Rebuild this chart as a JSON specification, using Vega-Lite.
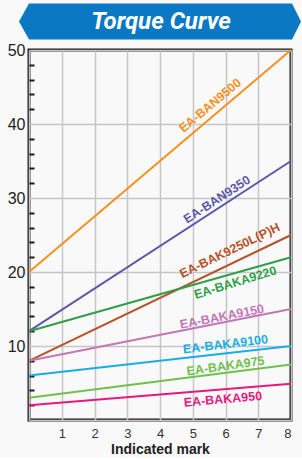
{
  "$schema": "https://vega.github.io/schema/vega-lite/v6.json",
  "background": "#f9f9f9",
  "padding": {"left": 5, "top": 3, "right": 3, "bottom": 0},
  "config": {
    "view": {"stroke": null},
    "font": "Liberation Sans"
  },
  "spacing": 0,
  "datasets": {
    "lines": [
      {"series": "EA-BAN9500", "mark": 0, "torque": 20},
      {"series": "EA-BAN9500", "mark": 8, "torque": 50},
      {"series": "EA-BAN9350", "mark": 0, "torque": 12},
      {"series": "EA-BAN9350", "mark": 8, "torque": 35},
      {"series": "EA-BAK9250L(P)H", "mark": 0, "torque": 8},
      {"series": "EA-BAK9250L(P)H", "mark": 8, "torque": 25},
      {"series": "EA-BAKA9220", "mark": 0, "torque": 12},
      {"series": "EA-BAKA9220", "mark": 8, "torque": 22},
      {"series": "EA-BAKA9150", "mark": 0, "torque": 8},
      {"series": "EA-BAKA9150", "mark": 8, "torque": 15},
      {"series": "EA-BAKA9100", "mark": 0, "torque": 6},
      {"series": "EA-BAKA9100", "mark": 8, "torque": 10},
      {"series": "EA-BAKA975", "mark": 0, "torque": 3},
      {"series": "EA-BAKA975", "mark": 8, "torque": 7.5},
      {"series": "EA-BAKA950", "mark": 0, "torque": 2},
      {"series": "EA-BAKA950", "mark": 8, "torque": 4.9}
    ],
    "labels": [
      {"series": "EA-BAN9500", "mark": 5.53, "torque": 42.5},
      {"series": "EA-BAN9350", "mark": 5.74, "torque": 29.8},
      {"series": "EA-BAK9250L(P)H", "mark": 6.13, "torque": 22.9},
      {"series": "EA-BAKA9220", "mark": 6.3, "torque": 18.57},
      {"series": "EA-BAKA9150", "mark": 5.89, "torque": 13.95},
      {"series": "EA-BAKA9100", "mark": 6.0, "torque": 10.23},
      {"series": "EA-BAKA975", "mark": 6.0, "torque": 7.3},
      {"series": "EA-BAKA950", "mark": 5.92, "torque": 2.8}
    ],
    "banner": [{"title": "Torque Curve"}]
  },
  "vconcat": [
    {
      "width": 262,
      "height": 37,
      "data": {"name": "banner"},
      "layer": [
        {
          "mark": {
            "type": "point",
            "shape": "M-1,0L-0.929,-0.128L0.936,-0.128L1,0L0.936,0.128L-0.929,0.128Z",
            "size": 79524,
            "filled": true,
            "opacity": 1,
            "color": "#0a78c2"
          },
          "encoding": {}
        },
        {
          "mark": {
            "type": "text",
            "font": "Roboto",
            "fontSize": 24,
            "fontWeight": "bold",
            "fontStyle": "italic",
            "color": "white",
            "align": "center",
            "baseline": "middle",
            "xOffset": 1
          },
          "encoding": {"text": {"field": "title"}}
        }
      ]
    },
    {
      "width": 262,
      "height": 370,
      "view": {"stroke": "#1a1a1a", "strokeWidth": 3},
      "layer": [
        {
          "data": {"name": "lines"},
          "mark": {"type": "line", "strokeWidth": 2},
          "encoding": {
            "x": {
              "field": "mark", "type": "quantitative",
              "scale": {"domain": [0, 8], "nice": false},
              "axis": {
                "values": [0, 1, 2, 3, 4, 5, 6, 7, 8],
                "tickCount": 100,
                "format": "d",
                "labelExpr": "datum.value === 0 ? '' : datum.label",
                "labelOverlap": false,
                "title": "Indicated mark",
                "domain": false,
                "ticks": false,
                "grid": true,
                "gridColor": "#c6c6ca",
                "gridWidth": 1.5,
                "labelFontSize": 13,
                "labelColor": "#333333",
                "labelPadding": 7,
                "labelFont": "Liberation Sans",
                "titleFont": "Liberation Sans",
                "titleFontSize": 14,
                "titleFontWeight": "bold",
                "titleColor": "#222222",
                "titlePadding": 2
              }
            },
            "y": {
              "field": "torque", "type": "quantitative",
              "scale": {"domain": [0, 50], "nice": false},
              "axis": {
                "values": [0, 2, 4, 6, 8, 10, 12, 14, 16, 18, 20, 22, 24, 26, 28, 30, 32, 34, 36, 38, 40, 42, 44, 46, 48, 50],
                "tickCount": 100,
                "format": "d",
                "labelExpr": "(datum.value % 10 === 0 && datum.value > 0) ? datum.label : ''",
                "labelOverlap": false,
                "labelBound": false,
                "title": null,
                "domain": false,
                "ticks": true,
                "tickSize": -5,
                "tickWidth": 2,
                "tickColor": "#1a1a1a",
                "tickOpacity": {"condition": {"test": "datum.value % 10 === 0", "value": 0}, "value": 1},
                "grid": true,
                "gridColor": "#c6c6ca",
                "gridWidth": 1.5,
                "gridOpacity": {"condition": {"test": "datum.value % 10 === 0", "value": 1}, "value": 0},
                "labelFontSize": 16,
                "labelColor": "#222222",
                "labelPadding": 9,
                "labelFont": "Liberation Sans"
              }
            },
            "color": {
              "field": "series", "type": "nominal", "legend": null,
              "scale": {
                "domain": ["EA-BAN9500", "EA-BAN9350", "EA-BAK9250L(P)H", "EA-BAKA9220", "EA-BAKA9150", "EA-BAKA9100", "EA-BAKA975", "EA-BAKA950"],
                "range": ["#f7901e", "#5a58a8", "#b5532a", "#2f9e48", "#c376b8", "#17aee6", "#72c04c", "#e6197f"]
              }
            }
          }
        },
        {"data": {"name": "labels"}, "transform": [{"filter": "datum.series === 'EA-BAN9500'"}],
         "mark": {"type": "text", "angle": -40, "fontSize": 12.5, "fontWeight": "bold", "font": "Liberation Sans", "align": "center", "baseline": "middle"},
         "encoding": {"x": {"field": "mark", "type": "quantitative"}, "y": {"field": "torque", "type": "quantitative"}, "text": {"field": "series"}, "color": {"field": "series", "type": "nominal"}}},
        {"data": {"name": "labels"}, "transform": [{"filter": "datum.series === 'EA-BAN9350'"}],
         "mark": {"type": "text", "angle": -33, "fontSize": 12.5, "fontWeight": "bold", "font": "Liberation Sans", "align": "center", "baseline": "middle"},
         "encoding": {"x": {"field": "mark", "type": "quantitative"}, "y": {"field": "torque", "type": "quantitative"}, "text": {"field": "series"}, "color": {"field": "series", "type": "nominal"}}},
        {"data": {"name": "labels"}, "transform": [{"filter": "datum.series === 'EA-BAK9250L(P)H'"}],
         "mark": {"type": "text", "angle": -26, "fontSize": 12.5, "fontWeight": "bold", "font": "Liberation Sans", "align": "center", "baseline": "middle"},
         "encoding": {"x": {"field": "mark", "type": "quantitative"}, "y": {"field": "torque", "type": "quantitative"}, "text": {"field": "series"}, "color": {"field": "series", "type": "nominal"}}},
        {"data": {"name": "labels"}, "transform": [{"filter": "datum.series === 'EA-BAKA9220'"}],
         "mark": {"type": "text", "angle": -17, "fontSize": 12.5, "fontWeight": "bold", "font": "Liberation Sans", "align": "center", "baseline": "middle"},
         "encoding": {"x": {"field": "mark", "type": "quantitative"}, "y": {"field": "torque", "type": "quantitative"}, "text": {"field": "series"}, "color": {"field": "series", "type": "nominal"}}},
        {"data": {"name": "labels"}, "transform": [{"filter": "datum.series === 'EA-BAKA9150'"}],
         "mark": {"type": "text", "angle": -11, "fontSize": 12.5, "fontWeight": "bold", "font": "Liberation Sans", "align": "center", "baseline": "middle"},
         "encoding": {"x": {"field": "mark", "type": "quantitative"}, "y": {"field": "torque", "type": "quantitative"}, "text": {"field": "series"}, "color": {"field": "series", "type": "nominal"}}},
        {"data": {"name": "labels"}, "transform": [{"filter": "datum.series === 'EA-BAKA9100'"}],
         "mark": {"type": "text", "angle": -7, "fontSize": 12.5, "fontWeight": "bold", "font": "Liberation Sans", "align": "center", "baseline": "middle"},
         "encoding": {"x": {"field": "mark", "type": "quantitative"}, "y": {"field": "torque", "type": "quantitative"}, "text": {"field": "series"}, "color": {"field": "series", "type": "nominal"}}},
        {"data": {"name": "labels"}, "transform": [{"filter": "datum.series === 'EA-BAKA975'"}],
         "mark": {"type": "text", "angle": -8, "fontSize": 12.5, "fontWeight": "bold", "font": "Liberation Sans", "align": "center", "baseline": "middle"},
         "encoding": {"x": {"field": "mark", "type": "quantitative"}, "y": {"field": "torque", "type": "quantitative"}, "text": {"field": "series"}, "color": {"field": "series", "type": "nominal"}}},
        {"data": {"name": "labels"}, "transform": [{"filter": "datum.series === 'EA-BAKA950'"}],
         "mark": {"type": "text", "angle": -5, "fontSize": 12.5, "fontWeight": "bold", "font": "Liberation Sans", "align": "center", "baseline": "middle"},
         "encoding": {"x": {"field": "mark", "type": "quantitative"}, "y": {"field": "torque", "type": "quantitative"}, "text": {"field": "series"}, "color": {"field": "series", "type": "nominal"}}}
      ]
    }
  ]
}
